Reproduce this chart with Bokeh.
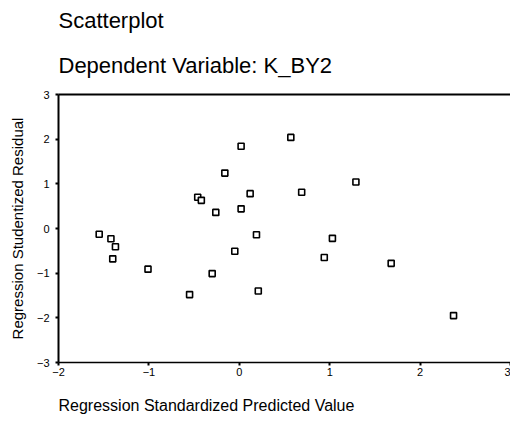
from bokeh.plotting import figure
from bokeh.models import Range1d, LinearAxis, FixedTicker, Title
from bokeh.embed import file_html
from bokeh.resources import INLINE

# Data
predicted = [-1.55, -1.42, -1.37, -1.40, -1.01, -0.55, -0.46, -0.42, -0.26, -0.16,
             -0.30, -0.05, 0.02, 0.12, 0.19, 0.21, 0.57, 0.02, 1.29, 0.69,
             1.03, 0.94, 1.68, 2.37]
residual = [-0.13, -0.23, -0.41, -0.68, -0.91, -1.48, 0.70, 0.63, 0.36, 1.24,
            -1.01, -0.51, 0.44, 0.78, -0.14, -1.40, 2.04, 1.84, 1.04, 0.81,
            -0.22, -0.65, -0.78, -1.95]
x_ticks = [-2, -1, 0, 1, 2, 3]
y_ticks = [-3, -2, -1, 0, 1, 2, 3]

FONT = "Liberation Sans"

p = figure(width=510, height=424, output_backend="svg", toolbar_location=None,
           x_range=Range1d(-2, 3), y_range=Range1d(-3, 3),
           min_border_left=58, min_border_right=0, min_border_top=94,
           min_border_bottom=62, x_axis_location=None, y_axis_location=None)
p.outline_line_color = None
p.grid.visible = False

xaxis = LinearAxis(ticker=FixedTicker(ticks=x_ticks))
yaxis = LinearAxis(ticker=FixedTicker(ticks=y_ticks),
                   axis_label="Regression Studentized Residual")
for ax in (xaxis, yaxis):
    ax.axis_line_color = "black"
    ax.axis_line_width = 2
    ax.major_tick_line_color = "black"
    ax.major_tick_line_width = 2
    ax.major_tick_out = 3
    ax.major_tick_in = 0
    ax.minor_tick_line_color = None
    ax.major_label_text_font = FONT
    ax.major_label_text_font_size = "11px"
    ax.major_label_text_color = "black"
    ax.axis_label_text_font = FONT
    ax.axis_label_text_font_style = "normal"
    ax.axis_label_text_color = "black"
xaxis.axis_line_width = 1.5
xaxis.major_label_standoff = 2
yaxis.major_label_standoff = 6
yaxis.axis_label_standoff = 8
yaxis.axis_label_text_font_size = "15px"
p.add_layout(xaxis, "below")
p.add_layout(yaxis, "left")

# white spacer row between the x axis and its left-aligned caption
p.add_layout(Title(text=".", text_font=FONT, text_font_size="12px",
                   text_color="white", standoff=3), "below")
p.add_layout(Title(text="Regression Standardized Predicted Value", text_font=FONT,
                   text_font_size="16px", text_font_style="normal",
                   text_color="black", align="left", standoff=4), "below")

# top border line of the frame
top = LinearAxis(ticker=FixedTicker(ticks=[]), axis_line_width=2,
                 axis_line_color="black", major_tick_out=0, major_tick_in=0,
                 minor_tick_line_color=None, major_label_standoff=0)
p.add_layout(top, "above")

p.add_layout(Title(text="Dependent Variable: K_BY2", text_font=FONT,
                   text_font_size="22px", text_font_style="normal",
                   text_color="black", align="left", standoff=34), "above")
p.add_layout(Title(text="Scatterplot", text_font=FONT,
                   text_font_size="22px", text_font_style="normal",
                   text_color="black", align="left", standoff=2), "above")

p.scatter(predicted, residual, marker="square", size=6, fill_color="white",
          line_color="black", line_width=1.6)

open("out.html", "w").write(file_html(p, INLINE))
